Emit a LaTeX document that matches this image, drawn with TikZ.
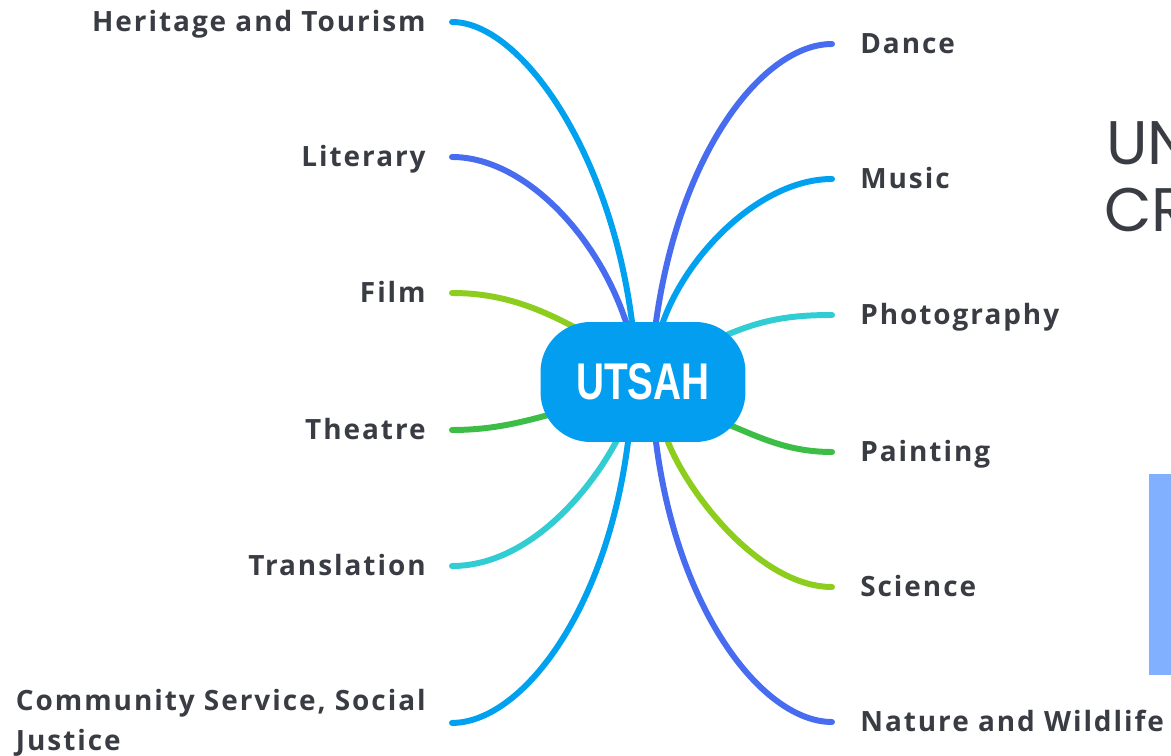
\documentclass[tikz,border=0pt]{standalone}
\usepackage{fontspec}
\setmainfont{Open Sans}
\newfontfamily\labelfont{Open Sans}[LetterSpace=7]
\newfontfamily\hubfont{Liberation Sans}[FakeStretch=0.75]
\newfontfamily\titlefont{Poppins}
\usepackage{tikz}
\usepackage{xcolor}
\usetikzlibrary{calc}
\usetikzlibrary{positioning}
\usetikzlibrary{backgrounds}

\definecolor{skyBlue}{RGB}{0,162,240}
\definecolor{hubBlue}{RGB}{3,158,240}
\definecolor{violetBlue}{RGB}{72,108,240}
\definecolor{limeGreen}{RGB}{140,205,30}
\definecolor{leafGreen}{RGB}{60,190,70}
\definecolor{aquaBlue}{RGB}{50,205,210}
\definecolor{labelGray}{RGB}{58,60,68}
\definecolor{noteBlue}{RGB}{128,176,255}

\begin{document}
\begin{tikzpicture}[x=0.02cm,y=-0.02cm,
	labelText/.style={inner sep=0pt,text=labelGray,font=\labelfont\fontsize{15.9}{23.2}\selectfont\bfseries},
	leftLabel/.style={labelText,anchor=base east},
	rightLabel/.style={labelText,anchor=base west},
	leftEnd/.style={xshift=0.52cm,yshift=0.2cm},
	rightEnd/.style={xshift=-0.56cm,yshift=0.2cm},
	hub/.style={fill=hubBlue,rounded corners=1cm,minimum width=4.1cm,minimum height=2.4cm,
		text=white,font=\hubfont\fontsize{29.4}{30}\selectfont\bfseries},
	branch/.style={line width=3.4pt,line cap=round}]
	
	\useasboundingbox (0,0) rectangle (1171,756);	% page
	
	\node[hub] (hub) at (643,382) {UTSAH};
	
	% left labels
	\node[leftLabel] (her) at (426,32) {Heritage and Tourism};
	\node[leftLabel] (lit) at (426,167) {Literary};
	\node[leftLabel] (fil) at (426,303) {Film};
	\node[leftLabel] (the) at (426,440) {Theatre};
	\node[leftLabel] (tra) at (426,576) {Translation};
	\node[leftLabel,align=left] (com) at (426,751) {Community Service, Social\\Justice};
	
	% right labels
	\node[rightLabel] (dan) at (860,54) {Dance};
	\node[rightLabel] (mus) at (860,189) {Music};
	\node[rightLabel] (pho) at (860,325) {Photography};
	\node[rightLabel] (pai) at (860,462) {Painting};
	\node[rightLabel] (sci) at (860,597) {Science};
	\node[rightLabel] (nat) at (860,732) {Nature and Wildlife};
	
	% branches, behind the hub
	\begin{scope}[on background layer]
		\draw[branch,skyBlue] ([leftEnd]her.base east) .. controls +(68,0) and +(-22,-172) .. ($(hub.center)+(-11,-60)$);
		\draw[branch,violetBlue] ([leftEnd]lit.base east) .. controls +(70,0) and +(-30,-90) .. ($(hub.center)+(-17,-60)$);
		\draw[branch,limeGreen] ([leftEnd]fil.base east) .. controls +(50,0) and +(-45,-25) .. ($(hub.center)+(-58,-49)$);
		\draw[branch,leafGreen] ([leftEnd]the.base east) .. controls +(50,0) and +(-40,10) .. ($(hub.center)+(-68,26)$);
		\draw[branch,aquaBlue] ([leftEnd]tra.base east) .. controls +(78,0) and +(-25,48) .. ($(hub.center)+(-26,58)$);
		\draw[branch,skyBlue] ([xshift=0.52cm]com.east) .. controls +(68,0) and +(-22,172) .. ($(hub.center)+(-15,60)$);
		
		\draw[branch,violetBlue] ([rightEnd]dan.base west) .. controls +(-68,0) and +(24,-172) .. ($(hub.center)+(13,-60)$);
		\draw[branch,skyBlue] ([rightEnd]mus.base west) .. controls +(-70,0) and +(25,-70) .. ($(hub.center)+(20,-60)$);
		\draw[branch,aquaBlue] ([rightEnd]pho.base west) .. controls +(-50,0) and +(40,-18) .. ($(hub.center)+(72,-42)$);
		\draw[branch,leafGreen] ([rightEnd]pai.base west) .. controls +(-50,0) and +(40,15) .. ($(hub.center)+(69,36)$);
		\draw[branch,limeGreen] ([rightEnd]sci.base west) .. controls +(-70,0) and +(22,55) .. ($(hub.center)+(25,60)$);
		\draw[branch,violetBlue] ([rightEnd]nat.base west) .. controls +(-68,0) and +(22,172) .. ($(hub.center)+(13,60)$);
	\end{scope}
	
	% cut-off title and note box at the right edge
	\node[anchor=base west,inner sep=0pt,text=labelGray,font=\titlefont\fontsize{35}{40}\selectfont] (un) at (1106,165) {UN};
	\node[anchor=base west,inner sep=0pt,text=labelGray,font=\titlefont\fontsize{35}{40}\selectfont] (cr) at (1104,232) {CR};
	\fill[noteBlue] (1149,474) rectangle (1171,675);
\end{tikzpicture}
\end{document}
